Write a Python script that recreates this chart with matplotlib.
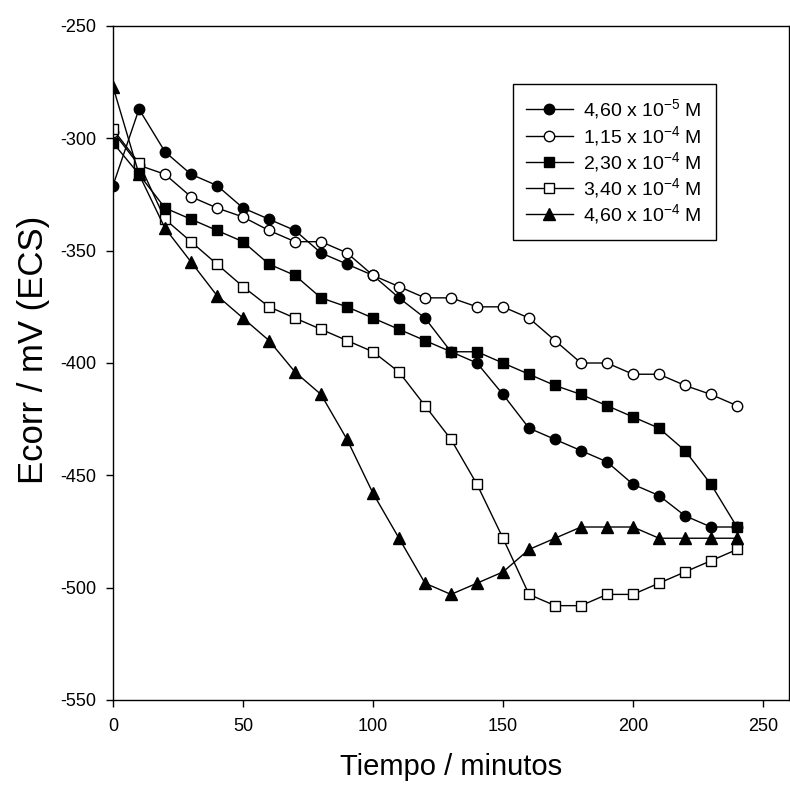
import matplotlib
matplotlib.use("Agg")
import matplotlib.pyplot as plt

plt.rcParams['font.family'] = ['Liberation Sans', 'DejaVu Sans']
plt.rcParams['mathtext.fontset'] = 'custom'
plt.rcParams['mathtext.rm'] = 'Liberation Sans'
plt.rcParams['mathtext.it'] = 'Liberation Sans'
plt.rcParams['axes.unicode_minus'] = False

# tiempo en minutos
tiempo = [0, 10, 20, 30, 40, 50, 60, 70, 80, 90, 100, 110, 120,
          130, 140, 150, 160, 170, 180, 190, 200, 210, 220, 230, 240]

# Ecorr (mV vs ECS) para cada concentracion
c_460e5 = [-321, -287, -306, -316, -321, -331, -336, -341, -351, -356, -361, -371, -380,
           -395, -400, -414, -429, -434, -439, -444, -454, -459, -468, -473, -473]
c_115e4 = [-297, -312, -316, -326, -331, -335, -341, -346, -346, -351, -361, -366, -371,
           -371, -375, -375, -380, -390, -400, -400, -405, -405, -410, -414, -419]
c_230e4 = [-302, -316, -331, -336, -341, -346, -356, -361, -371, -375, -380, -385, -390,
           -395, -395, -400, -405, -410, -414, -419, -424, -429, -439, -454, -473]
c_340e4 = [-296, -311, -336, -346, -356, -366, -375, -380, -385, -390, -395, -404, -419,
           -434, -454, -478, -503, -508, -508, -503, -503, -498, -493, -488, -483]
c_460e4 = [-277, -316, -340, -355, -370, -380, -390, -404, -414, -434, -458, -478, -498,
           -503, -498, -493, -483, -478, -473, -473, -473, -478, -478, -478, -478]

etiquetas = ['4,60 x 10$^{-5}$ M', '1,15 x 10$^{-4}$ M', '2,30 x 10$^{-4}$ M',
             '3,40 x 10$^{-4}$ M', '4,60 x 10$^{-4}$ M']

fig = plt.figure(figsize=(7.9, 7.85), dpi=100)
ax = fig.add_axes([113 / 790, 85 / 785, 676 / 790, 674 / 785])

ax.plot(tiempo, c_460e5, '-o', color='black', lw=1, ms=7.5, mfc='black', mec='black', mew=1, label=etiquetas[0])
ax.plot(tiempo, c_115e4, '-o', color='black', lw=1, ms=7.5, mfc='white', mec='black', mew=1, label=etiquetas[1])
ax.plot(tiempo, c_230e4, '-s', color='black', lw=1, ms=7.2, mfc='black', mec='black', mew=1, label=etiquetas[2])
ax.plot(tiempo, c_340e4, '-s', color='black', lw=1, ms=7.2, mfc='white', mec='black', mew=1, label=etiquetas[3])
ax.plot(tiempo, c_460e4, '-^', color='black', lw=1, ms=8.5, mfc='black', mec='black', mew=1, label=etiquetas[4])

ax.set_xlim(0, 260)
ax.set_ylim(-550, -250)
ax.set_xticks([0, 50, 100, 150, 200, 250])
ax.set_yticks([-550, -500, -450, -400, -350, -300, -250])
ax.tick_params(axis='both', direction='out', length=5, width=1, labelsize=13)
ax.tick_params(axis='x', pad=8)
ax.tick_params(axis='y', pad=7)
for s in ax.spines.values():
    s.set_linewidth(1)

ax.set_xlabel('Tiempo / minutos', fontsize=21)
ax.xaxis.set_label_coords(0.5, -0.079)
ax.set_ylabel('Ecorr / mV (ECS)', fontsize=25)
ax.yaxis.set_label_coords(-0.093, 0.52)

leg = ax.legend(loc='upper left', bbox_to_anchor=(0.591, 0.914), fontsize=14,
                frameon=True, fancybox=False, edgecolor='black', framealpha=1,
                handlelength=2.4, handletextpad=0.55, labelspacing=0.12,
                borderpad=0.7, borderaxespad=0)
leg.get_frame().set_linewidth(1)

fig.savefig('out.png', dpi=100)
